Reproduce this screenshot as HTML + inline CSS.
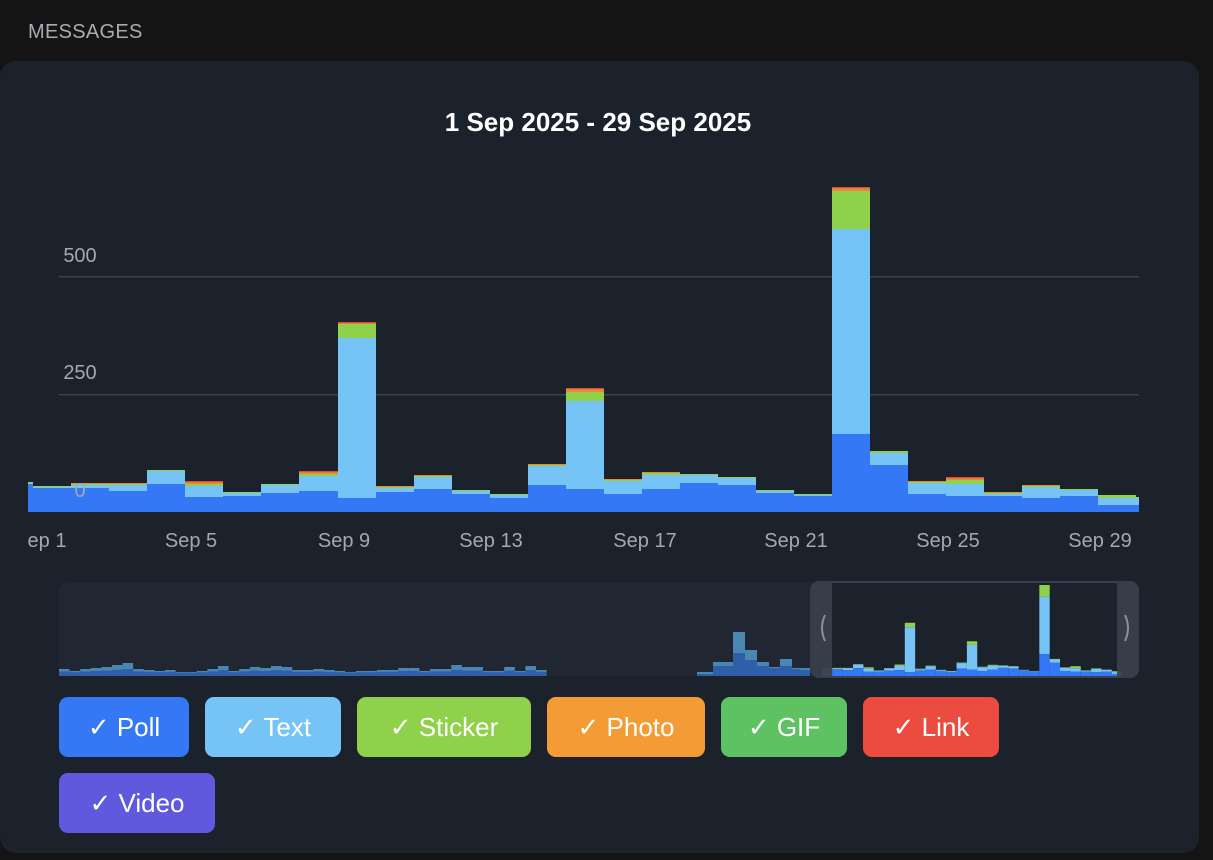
<!DOCTYPE html>
<html><head><meta charset="utf-8"><style>
html,body{margin:0;padding:0;background:#141414;width:1213px;height:860px;overflow:hidden;font-family:"Liberation Sans",sans-serif}
.hdr{position:absolute;left:28px;top:21px;color:#a7adb5;font-size:20px;letter-spacing:0.3px}
.card{position:absolute;left:0;top:61px;width:1199px;height:792px;background:#1b222c;border-radius:16px}
svg{position:absolute;left:0;top:0}
.btn{position:absolute;height:60px;border-radius:9px;color:#fff;font-size:26px;line-height:60px;text-align:center}
</style></head><body>
<div class="hdr">MESSAGES</div>
<div class="card"></div>
<svg id="s" width="1213" height="860"></svg>
<div class="btn" style="left:59px;top:697px;width:130px;background:#3478f6">✓ Poll</div>
<div class="btn" style="left:205px;top:697px;width:136px;background:#75c4f5">✓ Text</div>
<div class="btn" style="left:357px;top:697px;width:174px;background:#8fd14a">✓ Sticker</div>
<div class="btn" style="left:547px;top:697px;width:158px;background:#f39b34">✓ Photo</div>
<div class="btn" style="left:721px;top:697px;width:126px;background:#5ec262">✓ GIF</div>
<div class="btn" style="left:863px;top:697px;width:136px;background:#eb4c3f">✓ Link</div>
<div class="btn" style="left:59px;top:773px;width:156px;background:#6059dd">✓ Video</div>
<script>
var s='';
function r(x,y,w,h,c,o){if(h<=0)return;s+='<rect x="'+x+'" y="'+y+'" width="'+w+'" height="'+h+'" fill="'+c+'"'+(o?' opacity="'+o+'"':'')+'/>';}
function t(x,y,txt,sz,c,a,w){s+='<text x="'+x+'" y="'+y+'" font-size="'+sz+'" fill="'+c+'" text-anchor="'+(a||'start')+'"'+(w?' font-weight="bold"':'')+' font-family="Liberation Sans, sans-serif">'+txt+'</text>';}
t(598,131,'1 Sep 2025 - 29 Sep 2025',26,'#fff','middle',1);
r(59,276,1080,1.5,'#3a424d');r(59,394,1080,1.5,'#3a424d');
// bars: [x0,x1,total,green/top-of-sticker,light,poll]
var B=[[28,33,482,482,483,484],[33,71,486,486,487,488],[71,109,483,484,485,488],[109,147,483,484,485,491],[147,185,470,470,471,484],
[185,223,481,484,486,497],[223,261,492,492,493,496],[261,299,484,484,485,493],[299,338,471,474,476,491],[338,376,322,324,338,498],
[376,414,486,487,488,492],[414,452,475,476,477,489],[452,490,490,490,491,494],[490,528,494,494,495,498],[528,566,464,465,466,485],
[566,604,388,392,401,489],[604,642,479,480,481,494],[642,680,472,473,475,489],[680,718,474,474,475,483],[718,756,477,477,478,485],
[756,794,490,490,491,493],[794,832,494,494,495,496],[832,870,187,191,229,434],[870,908,451,451,453,465],[908,946,481,482,483,494],
[946,984,477,480,484,496],[984,1022,492,493,494,496],[1022,1060,485,486,487,498],[1060,1098,489,489,490,496],[1098,1136,495,495,498,505],[1136,1139,497,497,498,505]];
B.forEach(function(b){var w=b[1]-b[0];
r(b[0],b[2],w,b[3]-b[2],'#e8883a');
if(b[3]-b[2]>=2)r(b[0],b[2],w,1.2,'#e04a3a');
r(b[0],b[3],w,b[4]-b[3],'#8fd14a');
r(b[0],b[4],w,b[5]-b[4],'#75c4f5');
r(b[0],b[5],w,512-b[5],'#3478f6');});
t(80,497,'0',20,'#a1a9b3','middle');t(80,379,'250',20,'#a1a9b3','middle');t(80,262,'500',20,'#a1a9b3','middle');
var L=[['ep 1',47],['Sep 5',191],['Sep 9',344],['Sep 13',491],['Sep 17',645],['Sep 21',796],['Sep 25',948],['Sep 29',1100]];
L.forEach(function(l){t(l[1],547,l[0],20,'#a1a9b3','middle');});
s='<rect x="0" y="530" width="27" height="30" fill="#1b222c"/>'+s; // placeholder no-op
// navigator
s+='<rect x="59" y="583" width="1080" height="93" rx="8" fill="#202733"/>';
s+='<rect x="810" y="581" width="329" height="97" rx="9" fill="#1b222c"/>';
var dh=[4,2,4,5,6,8,10,4,3,2,3,1,1,2,4,7,2,4,6,5,7,6,3,3,4,3,2,1,2,2,3,3,5,5,2,4,4,8,6,6,2,2,6,2,7,3];
for(var i=0;i<dh.length;i++){var x=59+i*10.6,h=dh[i];r(x,673-h,10.6,h+3,'#4a87b0');r(x,673-h*0.4,10.6,h*0.4+3,'#2f5fa8');}
var dr=[[697,713,4,2],[713,733,14,10],[733,745,44,23],[745,757,26,16],[757,769,14,10],[769,780,9,8],[780,792,17,10],[792,800,8,7],[800,810,8,6]];
dr.forEach(function(d){r(d[0],676-d[2],d[1]-d[0],d[2],'#4a87b0');r(d[0],676-d[3],d[1]-d[0],d[3],'#2f5fa8');});
for(var k=1;k<30;k++){var b=B[k],x=822+(k-1)*10.35,w=10.35,f=0.28;
function y(v){return 676-(512-v)*f;}
r(x,y(b[2]),w,y(b[4])-y(b[2]),'#8fd14a');r(x,y(b[4]),w,y(b[5])-y(b[4]),'#75c4f5');r(x,y(b[5]),w,676-y(b[5]),'#3478f6');}
s+='<path d="M810 590 a9 9 0 0 1 9-9 h13 v97 h-13 a9 9 0 0 1 -9-9z" fill="#3a414c" opacity="0.92"/>';
s+='<path d="M1117 581 h13 a9 9 0 0 1 9 9 v79 a9 9 0 0 1 -9 9 h-13z" fill="#3a414c" opacity="0.92"/>';
s+='<rect x="832" y="581" width="285" height="2" fill="#3a414c"/><rect x="832" y="676" width="285" height="2" fill="#3a414c"/>';
s+='<path d="M825 615 q-6 13 0 26" stroke="#8a9099" stroke-width="2" fill="none"/><path d="M1125 615 q6 13 0 26" stroke="#8a9099" stroke-width="2" fill="none"/>';
document.getElementById('s').innerHTML=s;
</script>
</body></html>
